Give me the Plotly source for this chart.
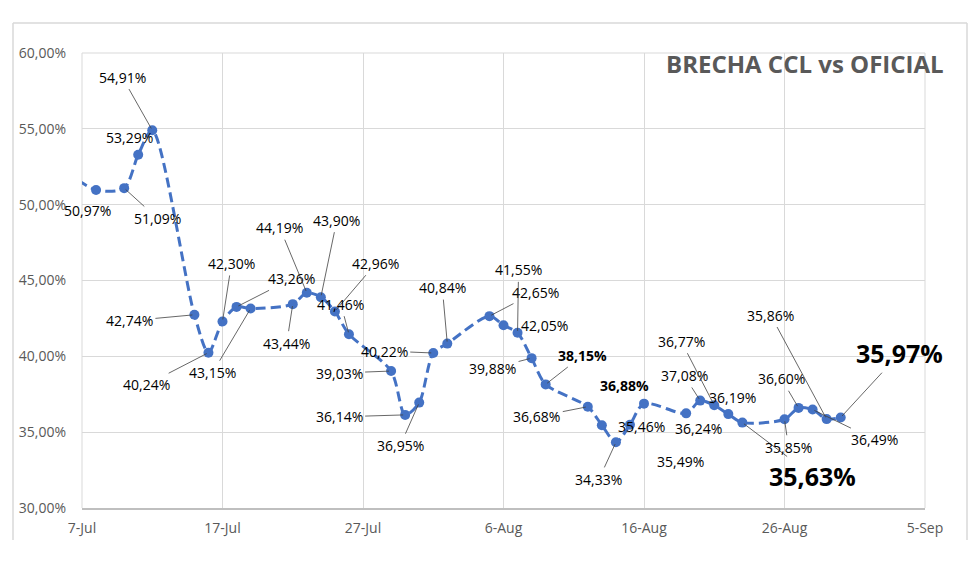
import plotly.graph_objects as go

# ---- data ----
dates = ["2024-07-05", "2024-07-08", "2024-07-10", "2024-07-11", "2024-07-12",
         "2024-07-15", "2024-07-16", "2024-07-17", "2024-07-18", "2024-07-19",
         "2024-07-22", "2024-07-23", "2024-07-24", "2024-07-25", "2024-07-26",
         "2024-07-29", "2024-07-30", "2024-07-31", "2024-08-01", "2024-08-02",
         "2024-08-05", "2024-08-06", "2024-08-07", "2024-08-08", "2024-08-09",
         "2024-08-12", "2024-08-13", "2024-08-14", "2024-08-15", "2024-08-16",
         "2024-08-19", "2024-08-20", "2024-08-21", "2024-08-22", "2024-08-23",
         "2024-08-26", "2024-08-27", "2024-08-28", "2024-08-29", "2024-08-30"]
brecha = [52.80, 50.97, 51.09, 53.29, 54.91,
          42.74, 40.24, 42.30, 43.26, 43.15,
          43.44, 44.19, 43.90, 42.96, 41.46,
          39.03, 36.14, 36.95, 40.22, 40.84,
          42.65, 42.05, 41.55, 39.88, 38.15,
          36.68, 35.46, 34.33, 35.49, 36.88,
          36.24, 37.08, 36.77, 36.19, 35.63,
          35.85, 36.60, 36.49, 35.86, 35.97]
title_text = "BRECHA CCL vs OFICIAL"

# ---- label layout (pixel offsets of label centre from point; None = first, unlabeled) ----
# (dx, dy, leader, style)  style: n normal, b bold, B big bold
label_layout = [None,
    (-9, 21, False, "n"), (33, 30, True, "n"), (-9, -17, False, "n"), (-30, -53, True, "n"),
    (-65, 6, True, "n"), (-62, 32, True, "n"), (9, -58, True, "n"), (55, -28, True, "n"), (-38, 64, True, "n"),
    (-6, 39, True, "n"), (-27, -65, True, "n"), (16, -77, True, "n"), (41, -48, True, "n"), (-8, -30, True, "n"),
    (-52, 2, True, "n"), (-66, 2, True, "n"), (-19, 43, True, "n"), (-49, -2, True, "n"), (-5, -56, True, "n"),
    (46, -24, True, "n"), (41, 0, False, "n"), (1, -63, True, "n"), (-39, 10, True, "n"), (37, -29, True, "b"),
    (-51, 10, True, "n"), (40, 1, False, "n"), (-17, 37, True, "n"), (51, 37, True, "n"), (-20, -18, False, "b"),
    (12, 15, False, "n"), (-16, -25, True, "n"), (-33, -64, True, "n"), (4, -17, False, "n"), (70, 53, True, "B"),
    (4, 28, True, "n"), (-17, -29, True, "n"), (62, 30, True, "n"), (-56, -104, True, "n"), (59, -64, True, "B")]

FONT = "Open Sans"
BLUE = "#4472C4"

fig = go.Figure()
fig.add_trace(go.Scatter(
    x=dates, y=brecha, mode="lines+markers",
    line=dict(color=BLUE, width=3, dash="10px,5px", shape="spline", smoothing=0.8),
    marker=dict(color=BLUE, size=10),
    showlegend=False, cliponaxis=True,
))

annotations = []
for d, v, lay in zip(dates, brecha, label_layout):
    if lay is None:
        continue
    dx, dy, leader, style = lay
    txt = f"{v:.2f}".replace(".", ",") + "%"
    size = 14
    if style in ("b", "B"):
        txt = f"<b>{txt}</b>"
    if style == "B":
        size = 25
    annotations.append(dict(
        x=d, y=v, xref="x", yref="y", text=txt,
        showarrow=True, ax=dx, ay=dy, axref="pixel", ayref="pixel",
        arrowhead=0, arrowwidth=0.8,
        arrowcolor="#404040" if leader else "rgba(0,0,0,0)",
        standoff=2, startstandoff=1,
        font=dict(family=FONT, size=size, color="#000000"),
    ))

# title
annotations.append(dict(
    x=(946 - 82) / 843, y=(508 - 63) / 455, xref="paper", yref="paper",
    xanchor="right", yanchor="middle", showarrow=False,
    text=f"<b>{title_text}</b>",
    font=dict(family=FONT, size=24, color="#595959"),
))

shapes = []
grey = "#D9D9D9"
# chart-area border (left, top, right)
xl, xr = (13 - 82) / 843, (967 - 82) / 843
yt, yb = (508 - 23) / 455, (508 - 540) / 455
for x0, y0, x1, y1 in [(xl, yb, xl, yt), (xl, yt, xr, yt), (xr, yt, xr, yb)]:
    shapes.append(dict(type="line", xref="paper", yref="paper", x0=x0, y0=y0, x1=x1, y1=y1,
                       line=dict(color=grey, width=1.5)))
# plot-area edges
for x0, y0, x1, y1 in [(0, 0, 0, 1), (1, 0, 1, 1), (0, 1, 1, 1)]:
    shapes.append(dict(type="line", xref="paper", yref="paper", x0=x0, y0=y0, x1=x1, y1=y1,
                       line=dict(color=grey, width=1), layer="below"))

fig.update_layout(
    width=980, height=573,
    margin=dict(l=82, r=55, t=53, b=65),
    paper_bgcolor="white", plot_bgcolor="white",
    separators=",.",
    font=dict(family=FONT, size=14, color="#595959"),
    annotations=annotations, shapes=shapes,
    xaxis=dict(
        type="date", range=["2024-07-07", "2024-09-05"],
        tick0="2024-07-07", dtick=864000000, tickformat="%-d-%b",
        showgrid=True, gridcolor=grey, gridwidth=1,
        showline=True, linecolor="#BFBFBF", linewidth=1.5,
        ticks="", ticklabelstandoff=6, zeroline=False,
        tickfont=dict(family=FONT, size=14, color="#595959"),
    ),
    yaxis=dict(
        range=[30, 60], dtick=5, tick0=30, tickformat=".2f", ticksuffix="%",
        showgrid=True, gridcolor=grey, gridwidth=1, zeroline=False,
        showline=False, ticks="", ticklabelstandoff=15,
        tickfont=dict(family=FONT, size=14, color="#595959"),
    ),
)

fig.write_html("out.html")
